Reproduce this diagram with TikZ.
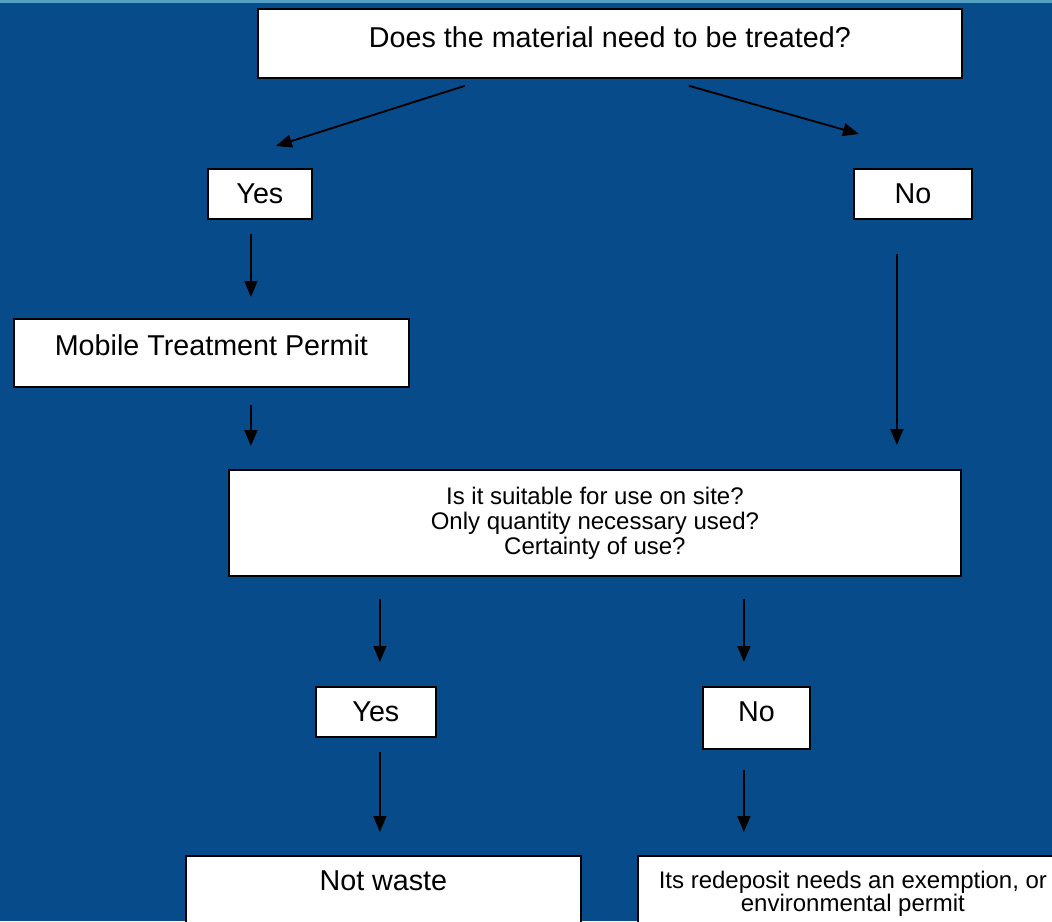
\documentclass[tikz,border=0pt]{standalone}
\usepackage{xcolor}
\usepackage{fontspec}
\setmainfont{Liberation Sans}
\usepackage{tikz}
\usetikzlibrary{arrows.meta, positioning, shapes}

\definecolor{bgblue}{RGB}{7,75,139}
\definecolor{topline}{RGB}{84,160,196}

\begin{document}
\begin{tikzpicture}[x=1pt, y=-1pt,
  box/.style={draw=black, line width=1.8pt, fill=white, inner sep=0pt, align=center, anchor=north west},
  big/.style={font=\fontsize{28.7}{30}\selectfont},
  small/.style={font=\fontsize{24}{25}\selectfont},
  arr/.style={-{Triangle[length=16pt,width=13pt]}, line width=1.9pt}]
\fill[bgblue] (0,0) rectangle (1052,921);
\fill[topline] (0,0) rectangle (1052,3);
\clip (0,0) rectangle (1052,921);

\node[box, big, minimum width=704pt, text height=39pt, text depth=30pt] (q) at (257,8) {Does the material need to be treated?};
\node[box, big, minimum width=104pt, text height=35pt, text depth=15pt] (yes) at (207,168) {Yes};
\node[box, big, minimum width=118pt, text height=35pt, text depth=15pt] (no) at (853,168) {No};
\node[box, big, minimum width=395pt, text height=37pt, text depth=31pt] (mtp) at (13,318) {Mobile Treatment Permit};
\node[box, small, minimum width=732pt, minimum height=106pt] (mid) at (228,469) {Is it suitable for use on site?\\Only quantity necessary used?\\Certainty of use?};
\node[box, big, minimum width=120pt, text height=35pt, text depth=15pt] (yes2) at (315,686) {Yes};
\node[box, big, minimum width=107pt, text height=35pt, text depth=27pt] (no2) at (702,686) {No};
\node[box, big, minimum width=395pt, text height=35pt, text depth=40pt] (nw) at (185,855) {Not waste};
\node[box, small, font=\fontsize{24}{20}\selectfont, minimum width=430pt, minimum height=76pt] (perm) at (637,855) {Its redeposit needs an exemption, or\\environmental permit};

% answers to the first question
\draw[arr] ([xshift=-145pt,yshift=-7pt]q.south) -- ([xshift=16pt,yshift=22pt]yes.north);
\draw[arr] ([xshift=79pt,yshift=-7pt]q.south) -- ([xshift=-54pt,yshift=34pt]no.north);
\draw[arr] ([xshift=-9pt,yshift=-14pt]yes.south) -- ([xshift=39.5pt,yshift=21pt]mtp.north);
\draw[arr] ([xshift=39.5pt,yshift=-17pt]mtp.south) -- ([xshift=-344pt,yshift=23pt]mid.north);
\draw[arr] ([xshift=-16pt,yshift=-34pt]no.south) -- ([xshift=302pt,yshift=24pt]mid.north);

% answers to the second question
\draw[arr] ([xshift=-215pt,yshift=-22pt]mid.south) -- ([xshift=4pt,yshift=24pt]yes2.north);
\draw[arr] ([xshift=149pt,yshift=-22pt]mid.south) -- ([xshift=-12.5pt,yshift=24pt]no2.north);
\draw[arr] ([xshift=4pt,yshift=-14pt]yes2.south) -- ([xshift=-3.5pt,yshift=23pt]nw.north);
\draw[arr] ([xshift=-12.5pt,yshift=-20pt]no2.south) -- ([xshift=-109pt,yshift=23pt]perm.north);
\end{tikzpicture}
\end{document}
